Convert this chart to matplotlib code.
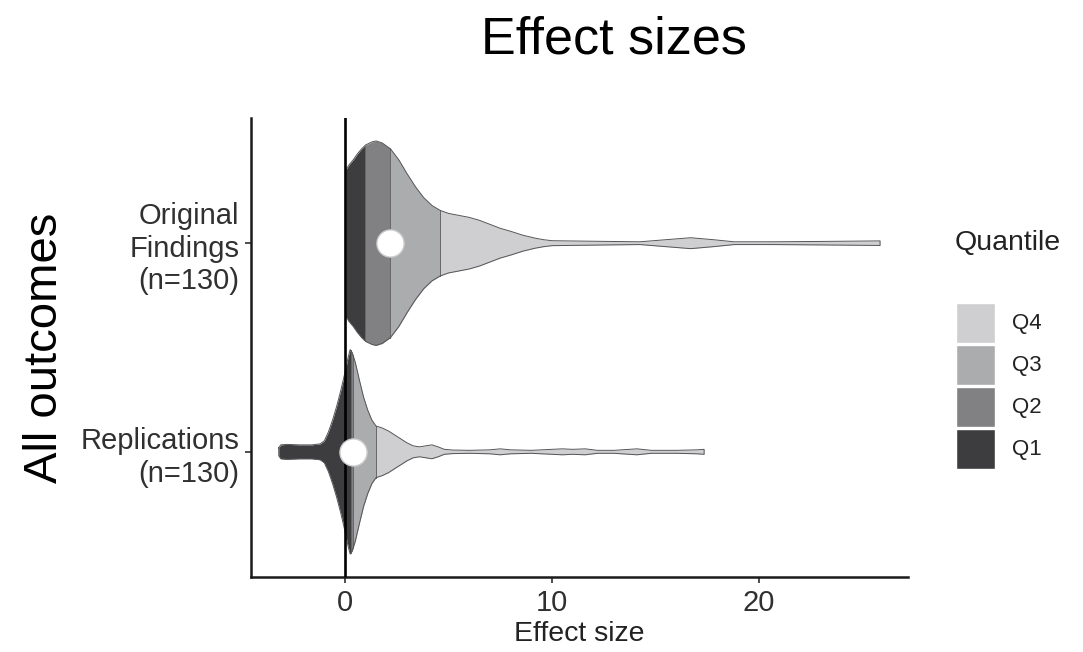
import numpy as np
import matplotlib
matplotlib.use("Agg")
import matplotlib.pyplot as plt
from matplotlib.patches import Rectangle

plt.rcParams["font.family"] = ["Liberation Sans", "DejaVu Sans"]

# violin outlines: effect size and relative half-width
orig_x = [0.05, 0.2, 0.4, 0.6, 0.8, 1.0, 1.3, 1.5, 1.8, 2.2, 2.6, 3.0, 3.4, 3.8,
          4.2, 4.6, 5.0, 5.5, 6.0, 6.5, 7.0, 7.5, 8.0, 8.6, 9.2, 9.6, 10.0, 10.7,
          12.6, 14.25, 15.5, 16.7, 17.8, 18.8, 20.7, 23.2, 25.85]
orig_w = [74, 79, 84, 90, 95, 99, 102, 103, 101, 95, 84, 70, 57, 46,
          38, 33, 30, 28, 26, 23, 19, 15, 12, 8, 5, 3.5, 2.5, 2.3,
          1.8, 1.4, 3.5, 5.5, 3.5, 1.4, 1.4, 1.8, 2.3]

repl_x = [-3.2, -3.1, -2.8, -2.2, -1.6, -1.2, -1.0, -0.8, -0.6, -0.4, -0.2, 0.0,
          0.15, 0.25, 0.35, 0.5, 0.7, 0.9, 1.1, 1.3, 1.5, 1.8, 2.1, 2.4, 2.7,
          3.0, 3.3, 3.6, 3.9, 4.2, 4.5, 4.8, 5.2, 6.0, 7.0, 7.5, 8.0, 9.0, 10.0,
          10.5, 11.0, 11.6, 12.2, 13.0, 14.1, 14.8, 16.0, 17.0, 17.35]
repl_w = [4, 7, 7.5, 7, 7, 8, 11, 20, 32, 46, 62, 80,
          95, 103, 100, 90, 72, 55, 42, 32, 26, 24, 21, 17, 13,
          9, 6, 5, 6, 7, 5, 2.5, 1.8, 1.5, 2, 3, 2, 1.5, 2.5,
          3, 2.5, 3, 1.5, 1.5, 3, 1.5, 1.5, 2, 2.5]

groups = ["Replications\n(n=130)", "Original\nFindings\n(n=130)"]
quartile_cuts = {
    "orig": [0.97, 2.17, 4.59],
    "repl": [0.27, 0.39, 1.5],
}
medians = {"orig": 2.17, "repl": 0.39}

quant_labels = ["Q1", "Q2", "Q3", "Q4"]
quant_colors = ["#3d3d3f", "#818184", "#abacae", "#cfcfd1"]

W, H = 1083, 652
fig = plt.figure(figsize=(W / 100, H / 100), dpi=100)
ax = fig.add_axes([251 / W, 1 - 577 / H, (908 - 251) / W, (577 - 118) / H])

half_max = 0.49


def draw_violin(xs, ws, cuts, ypos):
    xs = np.asarray(xs, float)
    ws = np.asarray(ws, float) / max(ws) * half_max
    edges = [xs[0]] + list(cuts) + [xs[-1]]
    for i in range(4):
        lo, hi = edges[i], edges[i + 1]
        inner = xs[(xs > lo) & (xs < hi)]
        seg = np.concatenate([[lo], inner, [hi]])
        hw = np.interp(seg, xs, ws)
        ax.fill_between(seg, ypos - hw, ypos + hw, color=quant_colors[i],
                        linewidth=0, zorder=2)
    for c in cuts:
        h = np.interp(c, xs, ws)
        ax.plot([c, c], [ypos - h, ypos + h], color="#666668", lw=0.7, zorder=3)
    ox = np.concatenate([xs, xs[::-1], xs[:1]])
    oy = np.concatenate([ypos + ws, ypos - ws[::-1], [ypos + ws[0]]])
    ax.plot(ox, oy, color="#555557", lw=0.7, zorder=3)


draw_violin(orig_x, orig_w, quartile_cuts["orig"], 2)
draw_violin(repl_x, repl_w, quartile_cuts["repl"], 1)

ax.axvline(0, color="black", lw=1.9, zorder=4)
ax.scatter([medians["repl"], medians["orig"]], [1, 2], s=380, color="white",
           edgecolors="#cfcfcf", linewidths=1.0, zorder=5)

ax.set_xlim(-4.54, 27.2)
ax.set_ylim(0.4, 2.6)
ax.set_xticks([0, 10, 20])
ax.set_yticks([1, 2])
ax.set_yticklabels(groups, multialignment="right", linespacing=1.22)
ax.tick_params(labelsize=21, colors="#303030", length=4.3, width=1.2, pad=4)
for s in ["top", "right"]:
    ax.spines[s].set_visible(False)
for s in ["left", "bottom"]:
    ax.spines[s].set_linewidth(1.8)
    ax.spines[s].set_color("#1a1a1a")
ax.set_xlabel("Effect size", fontsize=20.5, color="#222222", labelpad=3)

fig.text(614 / W, 1 - 40 / H, "Effect sizes", fontsize=37.5, ha="center", va="center")
fig.text(45 / W, 1 - 348 / H, "All outcomes", fontsize=34, rotation=90,
         ha="center", va="center")

# legend
fig.text(955 / W, 1 - 243 / H, "Quantile", fontsize=20.5, ha="left", va="center",
         color="#222222")
key_top = [303, 345, 387, 429]
for lab, col, top in zip(quant_labels[::-1], quant_colors[::-1], key_top):
    fig.add_artist(Rectangle((956 / W, 1 - (top + 40) / H), 39 / W, 40 / H,
                             transform=fig.transFigure, facecolor=col,
                             edgecolor="white", lw=1))
    fig.text(1012 / W, 1 - (top + 20) / H, lab, fontsize=16, ha="left",
             va="center", color="#222222")

fig.savefig("out.png", dpi=100)
